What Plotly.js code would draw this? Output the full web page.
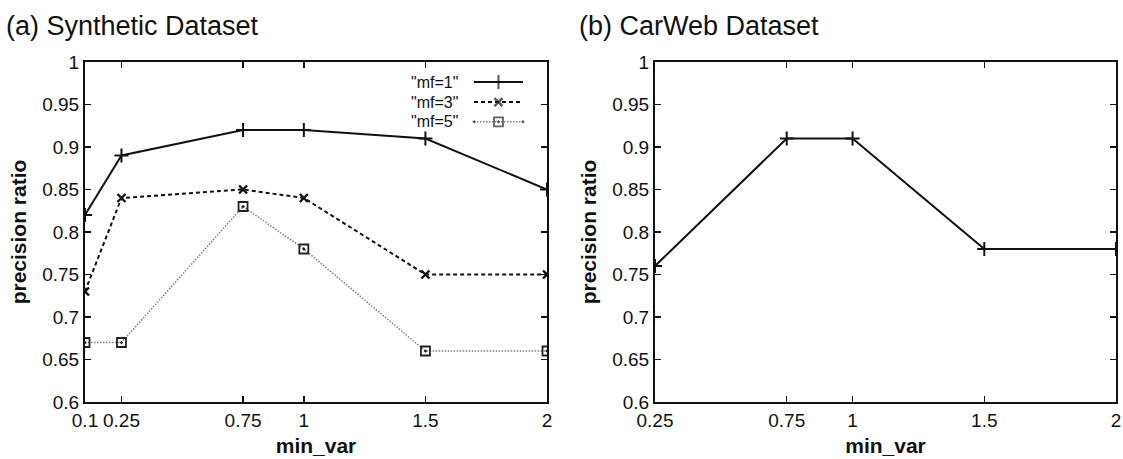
<!DOCTYPE html>
<html>
<head>
<meta charset="utf-8">
<script src="https://cdn.plot.ly/plotly-3.0.1.min.js"></script>
<style>html,body{margin:0;padding:0;background:#fff;}#chart{width:1123px;height:459px;}</style>
</head>
<body>
<div id="chart"></div>
<script>
// ---- data ----
const synthX = [0.1, 0.25, 0.75, 1, 1.5, 2];
const mf1 = [0.82, 0.89, 0.92, 0.92, 0.91, 0.85];
const mf3 = [0.73, 0.84, 0.85, 0.84, 0.75, 0.75];
const mf5 = [0.67, 0.67, 0.83, 0.78, 0.66, 0.66];
const carX = [0.25, 0.75, 1, 1.5, 2];
const carY = [0.76, 0.91, 0.91, 0.78, 0.78];
const seriesNames = ['"mf=1"', '"mf=3"', '"mf=5"'];
const synthTicks = [0.1, 0.25, 0.75, 1, 1.5, 2];
const synthTickText = ['0.1', '0.25', '0.75', '1', '1.5', '2'];
const carTicks = [0.25, 0.75, 1, 1.5, 2];
const carTickText = ['0.25', '0.75', '1', '1.5', '2'];
const yTicks = [0.6, 0.65, 0.7, 0.75, 0.8, 0.85, 0.9, 0.95, 1];
const yTickText = ['0.6', '0.65', '0.7', '0.75', '0.8', '0.85', '0.9', '0.95', '1'];
const panelTitles = ['(a) Synthetic Dataset', '(b) CarWeb Dataset'];
const xTitle = 'min_var';
const yTitle = 'precision ratio';

// ---- styles ----
const FONT = 'Liberation Sans, Arial, Helvetica, sans-serif';
const styles = [
  {line: {color: '#111', width: 2, dash: 'solid'}, marker: {symbol: 'cross-thin-open', size: 10, line: {color: '#111', width: 2}}},
  {line: {color: '#111', width: 2, dash: '4px,3px'}, marker: {symbol: 'x-thin-open', size: 8, line: {color: '#111', width: 2.4}}},
  {line: {color: '#808080', width: 1.5, dash: '1.5px,1.5px'}, marker: {symbol: 'square-open-dot', size: 9, color: '#222', line: {color: '#222', width: 1.8}}}
];
const seriesY = [mf1, mf3, mf5];

const traces = [];
seriesY.forEach((ys, i) => {
  traces.push({x: synthX, y: ys, type: 'scatter', mode: 'lines+markers', name: seriesNames[i],
    line: styles[i].line, marker: styles[i].marker, xaxis: 'x', yaxis: 'y', showlegend: false, hoverinfo: 'x+y'});
});
traces.push({x: carX, y: carY, type: 'scatter', mode: 'lines+markers', name: 'CarWeb',
  line: styles[0].line, marker: styles[0].marker, xaxis: 'x2', yaxis: 'y2', showlegend: false});

// legend keys drawn on a hidden overlay axis (0..1 frame of panel a)
const keyX = [0.842, 0.895, 0.948];
const keyRows = [0.941, 0.882, 0.824];
seriesNames.forEach((n, i) => {
  traces.push({x: keyX, y: [keyRows[i], keyRows[i], keyRows[i]], type: 'scatter', mode: 'lines+markers',
    line: styles[i].line, marker: Object.assign({}, styles[i].marker, {size: [0, styles[i].marker.size, 0]}),
    xaxis: 'x3', yaxis: 'y3', showlegend: false, hoverinfo: 'skip'});
});

const axisCommon = {
  showline: true, linecolor: '#111', linewidth: 2, mirror: 'ticks',
  ticks: 'inside', ticklen: 6, tickwidth: 1.5, tickcolor: '#111',
  showgrid: false, zeroline: false,
  tickfont: {family: FONT, size: 19, color: '#111'}
};
const titleFont = {family: FONT, size: 21, color: '#111', weight: 'bold'};

const dA = [85/1123, 547/1123];
const dB = [655/1123, 1116/1123];

const layout = {
  width: 1123, height: 459,
  margin: {l: 0, r: 0, t: 62, b: 57},
  paper_bgcolor: '#fff', plot_bgcolor: 'rgba(0,0,0,0)',
  showlegend: false,
  font: {family: FONT, color: '#111'},
  xaxis: Object.assign({}, axisCommon, {domain: dA, range: [0.1, 2], tickvals: synthTicks, ticktext: synthTickText,
    title: {text: '<b>' + xTitle + '</b>', font: titleFont, standoff: 9}, anchor: 'y'}),
  yaxis: Object.assign({}, axisCommon, {domain: [0, 1], range: [0.6, 1], tickvals: yTicks, ticktext: yTickText,
    title: {text: '<b>' + yTitle + '</b>', font: titleFont, standoff: 10}, anchor: 'x'}),
  xaxis2: Object.assign({}, axisCommon, {domain: dB, range: [0.25, 2], tickvals: carTicks, ticktext: carTickText,
    title: {text: '<b>' + xTitle + '</b>', font: titleFont, standoff: 9}, anchor: 'y2'}),
  yaxis2: Object.assign({}, axisCommon, {domain: [0, 1], range: [0.6, 1], tickvals: yTicks, ticktext: yTickText,
    title: {text: '<b>' + yTitle + '</b>', font: titleFont, standoff: 10}, anchor: 'x2'}),
  xaxis3: {domain: dA, range: [0, 1], visible: false, anchor: 'y3', overlaying: 'x', fixedrange: true},
  yaxis3: {domain: [0, 1], range: [0, 1], visible: false, anchor: 'x3', overlaying: 'y', fixedrange: true},
  annotations: [
    {text: panelTitles[0], xref: 'paper', yref: 'paper', x: 4/1123, y: 1 + 36/340, xanchor: 'left', yanchor: 'middle',
      showarrow: false, font: {family: FONT, size: 27, color: '#111'}},
    {text: panelTitles[1], xref: 'paper', yref: 'paper', x: 577/1123, y: 1 + 36/340, xanchor: 'left', yanchor: 'middle',
      showarrow: false, font: {family: FONT, size: 27, color: '#111'}}
  ].concat(seriesNames.map((n, i) => ({
    text: n, xref: 'x domain', yref: 'y domain', x: 0.812, y: keyRows[i], xanchor: 'right', yanchor: 'middle',
    showarrow: false, font: {family: FONT, size: 16, color: '#111'}
  })))
};

Plotly.newPlot('chart', traces, layout, {displayModeBar: false, staticPlot: true});
</script>
</body>
</html>
